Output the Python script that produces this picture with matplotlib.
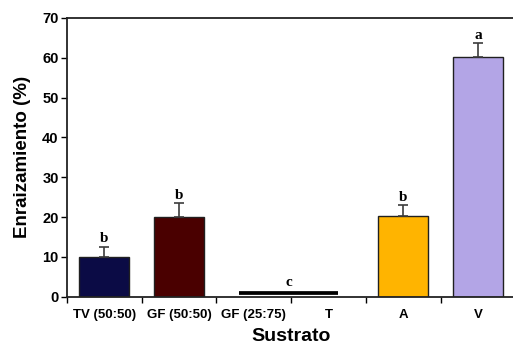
import numpy as np
import matplotlib.pyplot as plt
from matplotlib import font_manager

# datos del grafico
categorias = ['TV (50:50)', 'GF (50:50)', 'GF (25:75)', 'T', 'A', 'V']
enraizamiento = [9.9, 20.1, 0.0, 0.0, 20.3, 60.1]
error_sup = [2.7, 3.4, 0.0, 0.0, 2.7, 3.6]
letras = ['b', 'b', '', '', 'b', 'a']
colores = ['#0b0b45', '#4a0000', '#ffffff', '#ffffff', '#ffb400', '#b3a5e6']
# GF (25:75) y T: linea casi nula con la letra c
linea_c = 1.05
letra_c = 'c'

nombres = [f.name for f in font_manager.fontManager.ttflist]
fuente = 'Liberation Sans Narrow' if 'Liberation Sans Narrow' in nombres else 'Liberation Sans'

fig = plt.figure(figsize=(5.13, 3.46), dpi=100)
ax = fig.add_axes([0.1306, 0.1425, 0.874, 0.8055])

x = np.arange(len(categorias))
for i in x:
    if enraizamiento[i] > 0:
        ax.bar(i, enraizamiento[i], width=0.67, color=colores[i],
               edgecolor='#202020', linewidth=1.0, zorder=2)
        ax.errorbar(i, enraizamiento[i], yerr=[[0], [error_sup[i]]], fmt='none',
                    ecolor='#3c3c3c', elinewidth=1.2, capsize=3.5, capthick=1.2, zorder=3)
        ax.text(i, enraizamiento[i] + error_sup[i] + 0.3, letras[i], ha='center',
                va='bottom', fontsize=11, fontweight='bold', family='Liberation Serif')

ax.plot([x[2] - 0.2, x[3] + 0.13], [linea_c, linea_c], color='black',
        linewidth=2.7, solid_capstyle='butt', zorder=3)
ax.text((x[2] + x[3]) / 2 - 0.03, linea_c + 1.0, letra_c, ha='center', va='bottom',
        fontsize=11, fontweight='bold', family='Liberation Serif')

ax.set_xlim(-0.5, 5.5)
ax.set_ylim(0, 70)
ax.set_yticks(np.arange(0, 71, 10))
ax.set_xticks(x)
ax.set_xticklabels(categorias)
ax.set_xticks(np.arange(-0.5, 5.6, 1.0), minor=True)
ax.tick_params(axis='x', which='major', length=0, pad=9)
ax.tick_params(axis='x', which='minor', length=4, width=1.0, direction='out')
ax.tick_params(axis='y', length=4, width=1.0, direction='out', pad=2)
for lab in ax.get_xticklabels():
    lab.set_family(fuente)
    lab.set_fontweight('bold')
    lab.set_fontsize(9.5)
for lab in ax.get_yticklabels():
    lab.set_family(fuente)
    lab.set_fontweight('bold')
    lab.set_fontsize(10.5)

for s in ['left', 'bottom', 'top']:
    ax.spines[s].set_linewidth(1.3)
    ax.spines[s].set_color('#222222')
ax.spines['right'].set_visible(False)

ax.set_ylabel('Enraizamiento (%)', fontsize=13.5, fontweight='bold', family='Liberation Sans', labelpad=8)
ax.set_xlabel('Sustrato', fontsize=14, fontweight='bold', family='Liberation Sans', labelpad=5)

fig.savefig('out.png', dpi=100)
